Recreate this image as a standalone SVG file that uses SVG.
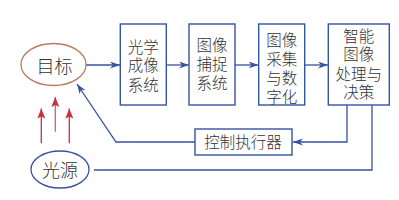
<svg xmlns="http://www.w3.org/2000/svg" width="399" height="200" viewBox="0 0 399 200">
<defs>
<style>
.box{fill:#fff;stroke:#3553a3;stroke-width:1.4}
.t{font-family:"Noto Sans CJK SC","Noto Sans",sans-serif;font-size:15.5px;font-weight:300;fill:#333;text-anchor:middle}
.tl{font-family:"Noto Sans CJK SC","Noto Sans",sans-serif;font-size:18px;font-weight:300;fill:#333;text-anchor:middle}
.ln{fill:none;stroke:#3553a3;stroke-width:1.3}
.red{fill:none;stroke:#c8323c;stroke-width:1.3}
</style>
<marker id="ab" markerWidth="11" markerHeight="8" refX="10" refY="3.5" orient="auto" markerUnits="userSpaceOnUse">
<path d="M0,0 L10,3.5 L0,7 L3,3.5 z" fill="#3553a3"/>
</marker>
<marker id="ar2" markerWidth="11" markerHeight="10" refX="10" refY="4" orient="auto" markerUnits="userSpaceOnUse">
<path d="M0,0 L10,4 L0,8 L2,4 z" fill="#c8323c"/>
</marker>
</defs>
<rect width="399" height="200" fill="#fff"/>
<g id="connectors">
<line class="ln" x1="86" y1="65" x2="120" y2="65" marker-end="url(#ab)"/>
<line class="ln" x1="166" y1="65" x2="189" y2="65" marker-end="url(#ab)"/>
<line class="ln" x1="235" y1="65" x2="258.5" y2="65" marker-end="url(#ab)"/>
<line class="ln" x1="304.5" y1="65" x2="328" y2="65" marker-end="url(#ab)"/>
<polyline class="ln" points="347,105 347,142 293,142" marker-end="url(#ab)"/>
<polyline class="ln" points="195,142 116,142 77,84" marker-end="url(#ab)"/>
<polyline class="ln" points="94,170 372,170 372,105"/>
<line class="red" x1="41.3" y1="143.3" x2="41.3" y2="108.5" marker-end="url(#ar2)"/>
<line class="red" x1="55.3" y1="131.7" x2="55.3" y2="97" marker-end="url(#ar2)" style="stroke:#d4606a"/>
<line class="red" x1="69.3" y1="143.3" x2="69.3" y2="108.5" marker-end="url(#ar2)"/>
</g>
<g id="target">
<ellipse cx="53.5" cy="64.5" rx="32.5" ry="21" fill="#fff" stroke="#b87b5e" stroke-width="1.3"/>
<text class="tl" x="54.5" y="72.5">目标</text>
</g>
<g id="light">
<ellipse cx="60" cy="169.5" rx="29" ry="18.5" fill="#fff" stroke="#3553a3" stroke-width="1.3"/>
<text class="tl" x="60" y="176.5">光源</text>
</g>
<g id="optics">
<rect class="box" x="120.3" y="24" width="46" height="81"/>
<text class="t" x="143.3" y="52.5">光学</text>
<text class="t" x="143.3" y="71">成像</text>
<text class="t" x="143.3" y="90.5">系统</text>
</g>
<g id="capture">
<rect class="box" x="189" y="24" width="46" height="81"/>
<text class="t" x="212" y="51">图像</text>
<text class="t" x="212" y="69.5">捕捉</text>
<text class="t" x="212" y="89">系统</text>
</g>
<g id="digitize">
<rect class="box" x="258.7" y="24" width="46" height="81"/>
<text class="t" x="281.7" y="45.5">图像</text>
<text class="t" x="281.7" y="64.5">采集</text>
<text class="t" x="281.7" y="83.5">与数</text>
<text class="t" x="281.7" y="102.5">字化</text>
</g>
<g id="process">
<rect class="box" x="328.3" y="24" width="61" height="81"/>
<text class="t" x="358.8" y="41.5">智能</text>
<text class="t" x="358.8" y="60">图像</text>
<text class="t" x="358.8" y="79.5">处理与</text>
<text class="t" x="358.8" y="98">决策</text>
</g>
<g id="controller">
<rect class="box" x="195" y="129" width="97" height="26"/>
<text class="t" x="243" y="148">控制执行器</text>
</g>
</svg>
